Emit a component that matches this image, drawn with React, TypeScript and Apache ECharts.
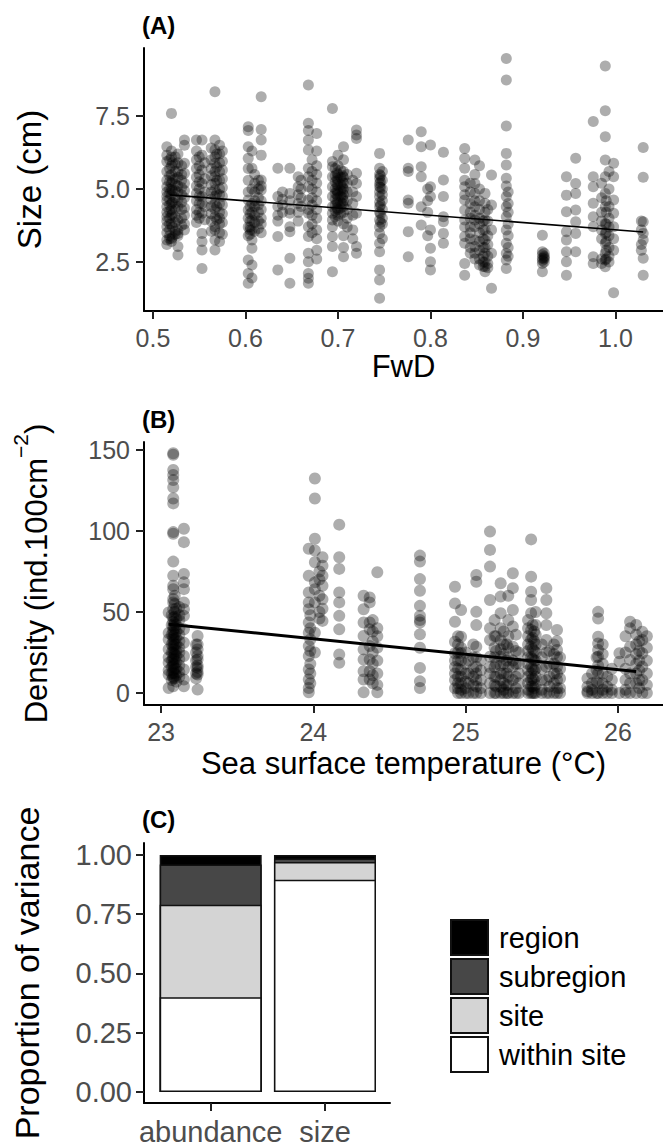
import React, { useEffect, useRef } from "react";
import * as echarts from "echarts";

// ---------- Panel A: size vs FwD ----------
const fwdSites = [
  0.515, 0.52, 0.527, 0.534, 0.547, 0.553, 0.567, 0.572, 0.603, 0.607, 0.617, 0.635, 0.648, 0.657,
  0.668, 0.677, 0.694, 0.7, 0.706, 0.72, 0.745, 0.776, 0.79, 0.8, 0.814, 0.837, 0.848, 0.859, 0.866,
  0.882, 0.921, 0.947, 0.957, 0.976, 0.989, 0.998, 1.03,
  0.518, 0.524, 0.531, 0.55, 0.563, 0.575, 0.61, 0.614, 0.64, 0.66, 0.672, 0.697, 0.703, 0.71,
  0.716, 0.748, 0.797, 0.843, 0.853, 0.862, 0.884, 0.923, 0.985, 0.993, 1.028,
  0.521, 0.556, 0.569, 0.605, 0.699, 0.705, 0.746, 0.857, 0.99,
];
const sizeValues = [
  [6.45, 6.16, 5.94, 5.6, 5.3, 5.08, 4.9, 4.74, 4.6, 4.39, 4.2, 4.05, 3.9, 3.71, 3.5, 3.25, 3.1],
  [7.59, 6.3, 6.1, 5.8, 5.5, 5.2, 5.0, 4.8, 4.5, 4.3, 4.1, 3.8, 3.3, 3.2],
  [6.2, 5.9, 5.6, 5.4, 5.1, 4.9, 4.62, 4.4, 3.94, 3.6, 3.48, 3.4, 3.03, 2.74],
  [6.68, 6.5, 5.88, 5.54, 5.2, 4.95, 4.7, 4.35, 4.1, 3.8, 3.6],
  [6.68, 6.3, 6.0, 5.7, 5.4, 5.1, 4.85, 4.6, 4.3, 4.1, 3.85],
  [6.68, 6.16, 5.65, 5.19, 4.74, 4.5, 4.17, 3.48, 3.2, 2.91, 2.28],
  [8.33, 6.68, 6.34, 6.1, 5.88, 5.6, 5.42, 5.2, 4.97, 4.75, 4.51, 4.3, 4.05, 3.71, 3.6, 3.25, 2.91],
  [6.5, 6.2, 5.9, 5.6, 5.3, 5.0, 4.8, 4.5, 4.2, 4.0, 3.8, 3.5, 3.2],
  [7.13, 7.0, 6.45, 6.05, 5.7, 5.3, 4.9, 4.62, 4.28, 4.0, 3.7, 3.4, 2.57, 2.11, 1.77],
  [6.3, 5.71, 5.0, 4.5, 4.2, 3.94, 3.6, 3.25, 2.97, 2.4, 1.95],
  [8.16, 7.04, 6.68, 6.16, 5.31, 5.1, 4.97, 4.6, 4.3, 4.0, 3.8, 3.5],
  [5.71, 4.74, 4.4, 4.1, 3.9, 3.37, 2.23],
  [5.71, 4.85, 4.6, 4.3, 4.17, 3.71, 3.54, 2.63, 1.77],
  [5.42, 5.08, 4.8, 4.5, 4.2, 3.9],
  [8.56, 7.25, 7.0, 6.68, 6.34, 5.71, 5.42, 5.08, 4.62, 4.3, 4.17, 3.71, 3.37, 2.8, 2.51, 2.11, 1.94, 1.77],
  [6.9, 6.3, 5.8, 5.5, 5.2, 4.9, 4.6, 4.3, 4.0, 3.6, 3.3, 2.9, 2.6],
  [7.76, 5.94, 5.76, 5.42, 5.08, 4.74, 4.39, 4.17, 3.94, 3.71, 3.37, 3.03, 2.17],
  [6.16, 5.8, 5.5, 5.3, 5.1, 4.9, 4.7, 4.5, 4.3, 4.1, 3.9],
  [6.45, 6.0, 5.6, 5.4, 5.2, 5.0, 4.8, 4.6, 4.4, 4.2, 3.8, 3.4, 3.0, 2.68],
  [7.02, 6.85, 6.73, 5.54, 5.19, 4.74, 4.17, 3.03, 2.8],
  [6.22, 5.71, 5.5, 5.37, 5.2, 5.08, 4.9, 4.74, 4.55, 4.39, 4.2, 3.94, 3.7, 3.48, 3.14, 2.85, 2.23, 1.88, 1.26],
  [6.68, 5.71, 5.6, 4.62, 4.51, 3.54, 2.68],
  [6.96, 6.45, 5.76, 5.42, 4.39, 3.77],
  [6.51, 5.08, 4.74, 3.6, 2.97, 2.51, 2.23],
  [6.26, 5.31, 4.74, 4.05, 3.88, 3.48, 3.14],
  [6.39, 6.05, 5.71, 5.3, 5.08, 4.8, 4.62, 4.28, 3.94, 3.7, 3.37, 3.14, 2.45, 2.05],
  [5.99, 5.5, 5.19, 4.85, 4.6, 4.39, 4.1, 3.94, 3.71, 3.25, 3.03, 2.8, 2.6],
  [4.85, 4.51, 4.2, 3.94, 3.6, 3.25, 3.0, 2.8, 2.5, 2.34, 2.17],
  [5.48, 4.45, 3.6, 2.8, 1.6],
  [9.47, 8.73, 7.16, 6.22, 5.82, 5.37, 5.1, 4.74, 4.39, 4.05, 3.6, 3.14, 2.8, 2.57, 2.28],
  [3.42, 2.85, 2.75, 2.63, 2.55, 2.45, 2.17],
  [5.42, 4.79, 4.22, 3.54, 3.25, 2.85, 2.51, 2.05],
  [6.05, 5.19, 4.85, 4.28, 3.88, 3.48, 2.85],
  [7.31, 5.42, 5.08, 4.51, 4.05, 3.71, 2.68, 2.45],
  [9.21, 7.68, 6.79, 5.99, 5.42, 4.85, 4.39, 3.82, 3.48, 3.14, 2.8, 2.57, 2.34],
  [5.88, 5.42, 4.62, 4.17, 3.71, 3.3, 2.9, 1.45],
  [6.42, 5.4, 3.88, 3.48, 3.25, 2.63, 2.05],
  [6.0, 5.7, 5.45, 5.25, 5.0, 4.85, 4.65, 4.45, 4.25, 4.0, 3.8, 3.6, 3.4, 3.3],
  [6.1, 5.85, 5.6, 5.35, 5.15, 4.95, 4.7, 4.5, 4.3, 4.05, 3.85, 3.55, 3.45],
  [5.8, 5.5, 5.3, 5.05, 4.8, 4.55, 4.3, 4.0, 3.75],
  [6.1, 5.8, 5.5, 5.25, 5.0, 4.75, 4.5, 4.2, 4.0],
  [6.4, 6.0, 5.7, 5.45, 5.15, 4.9, 4.65, 4.4, 4.15, 3.9, 3.55],
  [6.3, 5.95, 5.65, 5.35, 5.05, 4.75, 4.45, 4.15, 3.85, 3.45],
  [5.5, 5.2, 4.9, 4.6, 4.4, 4.1, 3.85, 3.55],
  [5.3, 5.0, 4.7, 4.45, 4.2, 3.9, 3.65],
  [4.9, 4.65, 4.45, 4.2],
  [5.3, 5.0, 4.7, 4.4],
  [6.0, 5.6, 5.3, 5.0, 4.7, 4.45, 4.1, 3.8, 3.5],
  [5.7, 5.45, 5.25, 5.0, 4.85, 4.65, 4.45, 4.25, 4.05],
  [5.65, 5.4, 5.15, 4.95, 4.75, 4.55, 4.35, 4.15],
  [5.5, 5.2, 4.9, 4.6, 4.3, 4.0, 3.7],
  [5.3, 4.9, 4.5, 4.1, 3.6, 3.3],
  [5.6, 5.3, 5.0, 4.8, 4.6, 4.3, 4.0, 3.8, 3.3],
  [5.0, 4.6, 4.2, 3.4],
  [5.2, 4.9, 4.5, 4.2, 4.0, 3.7, 3.5, 3.3, 3.0, 2.8],
  [5.8, 5.0, 4.6, 4.3, 4.0, 3.8, 3.5, 3.2, 2.9, 2.6, 2.4],
  [4.3, 3.9, 3.4, 3.1, 2.7, 2.45, 2.3],
  [4.9, 4.5, 4.2, 3.8, 3.4, 3.0, 2.7],
  [2.8, 2.7, 2.6, 2.5, 2.65],
  [5.2, 4.7, 4.2, 3.9, 3.6, 3.3, 2.6, 2.45],
  [5.6, 5.0, 4.4, 4.0, 3.7, 3.4, 3.0, 2.7, 2.5],
  [3.9, 3.6, 3.1, 2.9],
  [5.9, 5.3, 4.95, 4.55, 4.15, 3.7, 3.35],
  [5.9, 5.35, 4.9, 4.4, 3.95],
  [6.2, 5.75, 5.3, 4.85, 4.4, 3.95],
  [4.4, 4.15, 3.9, 3.7, 3.45, 3.6],
  [5.55, 5.35, 5.15, 4.95, 4.8, 4.55, 4.35],
  [5.45, 5.25, 5.05, 4.9, 4.7, 4.5],
  [5.45, 5.25, 5.05, 4.45, 4.15, 3.85],
  [3.9, 3.6, 3.3, 3.0, 2.7, 2.5, 2.35],
  [4.6, 4.2, 3.8, 3.5, 3.2, 2.9, 2.6],
];
const sizeFitX = [0.518, 1.03];
const sizeFitY = [4.8, 3.53];
const fwdTicks = [0.5, 0.6, 0.7, 0.8, 0.9, 1.0];
const sizeTicks = [2.5, 5.0, 7.5];

// ---------- Panel B: density vs SST ----------
const sstSites = [
  23.05, 23.08, 23.12, 23.15, 23.24, 23.97, 24.01, 24.06, 24.17, 24.33, 24.37, 24.42, 24.7, 24.93,
  24.97, 25.07, 25.16, 25.23, 25.28, 25.31, 25.43, 25.46, 25.53, 25.6, 25.8, 25.87, 25.93, 26.01,
  26.08, 26.16,
  23.09, 23.1, 23.23, 23.98, 24.04, 24.39, 24.95, 25.0, 25.05, 25.1, 25.19, 25.25, 25.35, 25.41,
  25.45, 25.5, 25.58, 25.62, 25.83, 25.9, 25.96, 26.05, 26.12, 26.19,
  23.07, 25.02, 25.2, 25.27, 25.33, 25.44, 25.55, 25.86, 26.14,
];
const densityValues = [
  [49.7, 37, 33, 27, 22, 18.6, 14, 11.4, 3.1],
  [148, 147, 137.6, 134.5, 131.4, 127, 120, 117, 99.3, 98.3, 81.1, 72.4, 66.2, 64, 58, 55.9, 51.7, 46.6, 44, 41.4, 39, 37.2, 35, 33.1, 31, 29, 27, 24.8, 22, 20.7, 18, 16.6, 14, 12.4, 10, 9.3, 4.1],
  [53, 48, 45, 40, 36, 32, 28, 25, 21, 17, 13, 10],
  [101.4, 93.1, 73.5, 68.3, 64.1, 55.9, 51.7, 47.6, 39.3, 31, 22.8, 14.5, 8.3, 4.1],
  [35.2, 30, 26.9, 23, 20.7, 17, 15.5, 13, 11.4, 2.1],
  [89, 72.4, 62.1, 55.9, 51.7, 43.5, 37.2, 29, 22.8, 14.5, 8.3, 3.1, 0.4],
  [132.4, 120, 95.2, 87.9, 80.7, 68.3, 64.1, 55.9, 37.2, 25],
  [83.8, 78.6, 72.4, 66.2, 57.9, 52, 44.5],
  [103.9, 83.8, 76.6, 62.1, 55.9, 47.6, 39.3, 23.8, 18.6],
  [60, 51.7, 43.5, 35.2, 26.9, 20.7, 13.4, 8.3, 0.4],
  [59, 55.9, 43.5, 39.3, 29, 20.7, 13.4, 8.3],
  [74.5, 40, 35, 28, 20, 12, 5, 0.4],
  [84.8, 81.1, 70.3, 63.1, 53.8, 47.6, 45, 43.5, 36.2, 27.9, 15.5, 7.2, 3.1],
  [65.6, 55.3, 44, 31.7, 24.5, 20, 16, 12.1, 8, 2.9],
  [51.2, 34.7, 28, 24.5, 20, 14.2, 10, 6, 2, 0],
  [72.8, 68.7, 50.1, 41.9, 28.6, 22, 16.2, 12, 8, 4, 0],
  [99.6, 88.3, 78, 57.4, 40, 32.7, 22.4, 16, 12.1, 6, 0],
  [67.7, 59.5, 49.2, 40, 32.7, 27, 22.4, 17, 12.1, 8, 3.9, 0],
  [60, 45, 35, 28, 22, 16, 10, 5, 0],
  [73.9, 64.7, 51.2, 41, 28.6, 20, 16.2, 8, 0],
  [94.8, 71.8, 62.5, 57.4, 49.2, 38.9, 33, 28.6, 22, 16.2, 12, 8, 4, 0],
  [50, 42, 36, 30, 25, 20, 15, 10, 5, 0],
  [64.7, 57.4, 49.2, 41.9, 32.7, 25, 16.2, 8, 0],
  [38.9, 32, 26.5, 22, 16.2, 12, 8, 3, 0],
  [9, 3.9, 0, 1],
  [50.1, 46, 34.7, 30.6, 26.5, 22.4, 17, 12.1, 6, 0],
  [10.1, 3.9, 0],
  [24.5, 19.3, 0],
  [44, 39.9, 28.6, 20.4, 12.1, 6, 0],
  [37.8, 32.7, 24.5, 16.2, 8, 0],
  [60, 55, 50, 47, 43, 40, 36, 33, 30, 27, 24, 21, 18, 15, 12, 9],
  [52, 46, 42, 38, 34, 30, 26, 23, 19, 15, 11, 7],
  [30, 25, 20, 16, 12, 9],
  [48, 40, 33, 26, 18, 12, 6],
  [75, 70, 60, 50, 46],
  [45, 38, 32, 25, 18, 11, 6],
  [35, 30, 25, 20, 15, 10, 6, 3, 0],
  [25, 18, 12, 7, 3, 0],
  [30, 22, 15, 10, 5, 0],
  [20, 14, 8, 3, 0],
  [45, 35, 28, 22, 16, 10, 5, 0],
  [38, 30, 24, 18, 12, 6, 2, 0],
  [25, 18, 12, 6, 0],
  [45, 40, 35, 30, 26, 22, 18, 14, 10, 6, 2, 0],
  [38, 32, 26, 20, 14, 8, 3, 0],
  [30, 22, 15, 8, 2, 0],
  [30, 24, 18, 12, 6, 0],
  [22, 15, 9, 3, 0],
  [12, 6, 2, 0],
  [30, 24, 18, 12, 6, 2, 0],
  [15, 8, 2, 0],
  [35, 25, 15, 8, 2, 0],
  [42, 36, 30, 24, 18, 12, 6, 0],
  [35, 28, 20, 12, 5, 0],
  [48, 42, 36, 30, 25, 20, 16, 12, 8],
  [20, 12, 6, 0],
  [35, 26, 18, 10, 4, 0],
  [30, 20, 12, 5, 0],
  [36, 26, 18, 10, 3, 0],
  [42, 34, 27, 21, 15, 9, 4, 0],
  [26, 18, 10, 4, 0],
  [22, 14, 7, 0],
  [32, 26, 20, 14, 8, 3],
];
const densityFitX = [23.05, 26.12];
const densityFitY = [42.5, 13.3];
const sstTicks = [23, 24, 25, 26];
const densityTicks = [0, 50, 100, 150];

// ---------- Panel C: proportion of variance ----------
const responses = ["abundance", "size"];
const responsePositions = [1, 2];
const components = ["within site", "site", "subregion", "region"];
const withinSite = [0.4, 0.895];
const site = [0.39, 0.075];
const subregion = [0.17, 0.015];
const region = [0.04, 0.015];
const proportionTicks = [0, 0.25, 0.5, 0.75, 1];
const componentColors = ["#ffffff", "#d4d4d4", "#474747", "#000000"];

const FONT = "'Liberation Sans', Arial, Helvetica, sans-serif";

function buildScatter(xs: number[], ys: number[][]) {
  const out: number[][] = [];
  xs.forEach((x, i) => ys[i].forEach((y) => out.push([x, y])));
  return out;
}

function axisBase(ticks: number[], fmt: (v: number) => string, fontSize: number, margin: number) {
  return {
    type: "value",
    axisLine: { show: true, onZero: false, lineStyle: { color: "#000", width: 2 } },
    axisTick: { show: true, length: 8, customValues: ticks, lineStyle: { color: "#222", width: 2 } },
    axisLabel: {
      customValues: ticks,
      formatter: fmt,
      fontSize,
      margin,
      color: "#4d4d4d",
      fontFamily: FONT,
    },
    splitLine: { show: false },
  };
}

export default function App() {
  const ref = useRef<HTMLDivElement>(null);
  useEffect(() => {
    if (!ref.current) return;
    const chart = echarts.init(ref.current, undefined, { renderer: "svg" });
    const stacks = [withinSite, site, subregion, region];
    // cumulative tops of each stacked segment (bottom segment first)
    const tops = stacks.map((_, k) =>
      responsePositions.map((_p, i) => stacks.slice(0, k + 1).reduce((s, arr) => s + arr[i], 0))
    );
    // draw tallest cumulative first so lower segments overlay it (equivalent to stacking)
    const barOrder = [3, 2, 1, 0];
    const option: any = {
      animation: false,
      backgroundColor: "#ffffff",
      title: [
        { text: "(A)", left: 142, top: 13, padding: 0, textStyle: { fontSize: 24, fontWeight: "bold", color: "#000", fontFamily: FONT } },
        { text: "(B)", left: 142, top: 407, padding: 0, textStyle: { fontSize: 24, fontWeight: "bold", color: "#000", fontFamily: FONT } },
        { text: "(C)", left: 142, top: 807, padding: 0, textStyle: { fontSize: 24, fontWeight: "bold", color: "#000", fontFamily: FONT } },
      ],
      grid: [
        { left: 144, top: 48, width: 519, height: 263 },
        { left: 144, top: 442, width: 519, height: 263 },
        { left: 144, top: 843, width: 246, height: 262 },
      ],
      xAxis: [
        {
          ...axisBase(fwdTicks, (v: number) => v.toFixed(1), 25, 14),
          gridIndex: 0,
          min: 0.4903,
          max: 1.0514,
          name: "FwD",
          nameLocation: "middle",
          nameGap: 36,
          nameTextStyle: { fontSize: 31, color: "#000", fontFamily: FONT },
        },
        {
          ...axisBase(sstTicks, (v: number) => String(v), 25, 14),
          gridIndex: 1,
          min: 22.888,
          max: 26.296,
          name: "Sea surface temperature (°C)",
          nameLocation: "middle",
          nameGap: 43,
          nameTextStyle: { fontSize: 31, color: "#000", fontFamily: FONT },
        },
        {
          ...axisBase(responsePositions, (v: number) => responses[Math.round(v) - 1] || "", 29, 14),
          gridIndex: 2,
          min: 0.4165,
          max: 2.569,
        },
      ],
      yAxis: [
        {
          ...axisBase(sizeTicks, (v: number) => v.toFixed(1), 25, 14),
          gridIndex: 0,
          min: 0.822,
          max: 9.829,
          name: "Size (cm)",
          nameLocation: "middle",
          nameRotate: 90,
          nameGap: 98,
          nameTextStyle: { fontSize: 33, color: "#000", fontFamily: FONT },
        },
        {
          ...axisBase(densityTicks, (v: number) => String(v), 25, 14),
          gridIndex: 1,
          min: -7.4,
          max: 154.9,
          name: "{b|Density (ind.100cm}{s|−2}{b|)}",
          nameLocation: "middle",
          nameRotate: 90,
          nameGap: 92,
          nameTextStyle: {
            color: "#000",
            fontFamily: FONT,
            rich: {
              b: { fontSize: 31, lineHeight: 42, verticalAlign: "bottom", color: "#000", fontFamily: FONT },
              s: { fontSize: 21, lineHeight: 21, verticalAlign: "top", color: "#000", fontFamily: FONT },
            },
          },
        },
        {
          ...axisBase(proportionTicks, (v: number) => v.toFixed(2), 29, 12),
          gridIndex: 2,
          min: -0.046,
          max: 1.0502,
          name: "Proportion of variance",
          nameLocation: "middle",
          nameRotate: 90,
          nameGap: 100,
          nameTextStyle: { fontSize: 34, color: "#000", fontFamily: FONT },
        },
      ],
      legend: {
        data: ["region", "subregion", "site", "within site"],
        orient: "vertical",
        left: 450,
        top: 919,
        padding: 0,
        itemWidth: 37,
        itemHeight: 35,
        itemGap: 2,
        icon: "rect",
        selectedMode: false,
        textStyle: { fontSize: 29, color: "#000", fontFamily: FONT, padding: [0, 0, 0, 6] },
      },
      series: [
        {
          type: "scatter",
          xAxisIndex: 0,
          yAxisIndex: 0,
          symbolSize: 11,
          itemStyle: { color: "rgba(0,0,0,0.4)" },
          data: buildScatter(fwdSites, sizeValues),
        },
        {
          type: "line",
          xAxisIndex: 0,
          yAxisIndex: 0,
          symbol: "none",
          lineStyle: { color: "#000", width: 1.6 },
          data: sizeFitX.map((x, i) => [x, sizeFitY[i]]),
        },
        {
          type: "scatter",
          xAxisIndex: 1,
          yAxisIndex: 1,
          symbolSize: 12,
          itemStyle: { color: "rgba(0,0,0,0.4)" },
          data: buildScatter(sstSites, densityValues),
        },
        {
          type: "line",
          xAxisIndex: 1,
          yAxisIndex: 1,
          symbol: "none",
          lineStyle: { color: "#000", width: 3 },
          data: densityFitX.map((x, i) => [x, densityFitY[i]]),
        },
        ...barOrder.map((k) => ({
          type: "bar",
          name: components[k],
          xAxisIndex: 2,
          yAxisIndex: 2,
          barWidth: 102,
          barGap: "-100%",
          itemStyle: { color: componentColors[k], borderColor: "#111", borderWidth: 1.5 },
          data: responsePositions.map((p, i) => [p, tops[k][i]]),
        })),
      ],
    };
    chart.setOption(option);
    return () => chart.dispose();
  }, []);
  return (
    <div
      ref={ref}
      style={{ position: "absolute", left: 0, top: 0, width: 663, height: 1146, background: "#fff" }}
    />
  );
}
